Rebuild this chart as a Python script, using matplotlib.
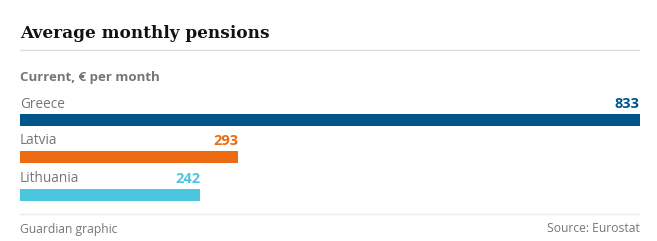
import matplotlib
matplotlib.use("Agg")
from matplotlib import pyplot as plt

# data
countries = ["Greece", "Latvia", "Lithuania"]
pensions = [833, 293, 242]
colours = ["#005689", "#ec6b12", "#4bc6df"]

title = "Average monthly pensions"
subtitle = "Current, € per month"
credit = "Guardian graphic"
source = "Source: Eurostat"

W, H = 657, 241
fig = plt.figure(figsize=(W / 100, H / 100), dpi=100)
fig.patch.set_facecolor("white")

# axes spanning the bar area horizontally, full height in pixel units
ax = fig.add_axes([20 / W, 0, 620 / W, 1])
ax.set_xlim(0, max(pensions))
ax.set_ylim(H, 0)
ax.axis("off")

grey = "#767676"
body = "Open Sans"

# title + rules
ax.text(0, 33.5, title, fontsize=12.2, fontweight="bold", family="DejaVu Serif",
        color="#121212", va="center", ha="left")
ax.axhline(49.5, color="#dcdcdc", lw=1)
ax.text(0, 77, subtitle, fontsize=9.5, fontweight="bold", family=body,
        color=grey, va="center", ha="left")

bar_y = [120, 157, 195]
for name, val, col, y in zip(countries, pensions, colours, bar_y):
    ax.barh(y, val, height=12, color=col, left=0)
    ax.text(0, y - 16, name, fontsize=9.8, family=body, color=grey,
            va="center", ha="left")
    ax.text(val, y - 16, str(val), fontsize=10.5, family=body, fontweight="bold",
            color=col, va="center", ha="right")

ax.axhline(214, color="#ececec", lw=1)
ax.text(0, 229, credit, fontsize=8.7, family=body, color=grey, va="center", ha="left")
ax.text(max(pensions), 229, source, fontsize=8.7, family=body, color=grey,
        va="center", ha="right")

fig.savefig("out.png", dpi=100, facecolor="white")
